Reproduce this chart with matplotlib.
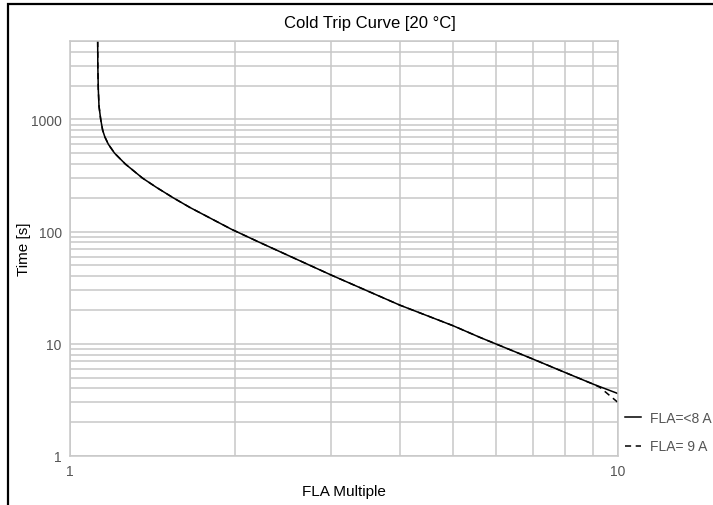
import matplotlib
matplotlib.use("Agg")
import matplotlib.pyplot as plt
from matplotlib.patches import Rectangle
from matplotlib.ticker import LogLocator, FixedLocator, FixedFormatter, NullFormatter

plt.rcParams['font.family'] = ['Liberation Sans', 'DejaVu Sans']

# Data
fla_solid = [1.1233, 1.124, 1.1263, 1.1296, 1.1377, 1.1472, 1.1575, 1.175, 1.206,
             1.262, 1.356, 1.4395, 1.5435, 1.6557, 1.97, 2.22, 3.0, 4.0, 5.0, 5.6,
             6.0, 7.0, 8.0, 9.0, 10.0]
time_solid = [5000, 3000, 1850, 1314, 1000, 800, 700, 600, 500,
              400, 300, 247, 200, 164, 105, 80, 40.9, 22.1, 14.5, 11.4,
              9.93, 7.3, 5.56, 4.38, 3.6]

fla_dashed = [1.1233, 1.124, 1.1263, 1.1296, 1.1377, 1.1472, 1.1575, 1.175, 1.206,
              1.262, 1.356, 1.4395, 1.5435, 1.6557, 1.97, 2.22, 3.0, 4.0, 5.0, 5.6,
              6.0, 7.0, 8.0, 9.0, 9.27, 9.67, 10.0]
time_dashed = [5000, 3000, 1850, 1314, 1000, 800, 700, 600, 500,
               400, 300, 247, 200, 164, 105, 80, 40.9, 22.1, 14.5, 11.4,
               9.93, 7.3, 5.56, 4.38, 4.09, 3.44, 3.0]

labels = ["FLA=<8 A", "FLA= 9 A"]
title = "Cold Trip Curve [20 \u00b0C]"
xlabel = "FLA Multiple"
ylabel = "Time [s]"
ytick_vals = [1, 10, 100, 1000]
ytick_labels = ["1", "10", "100", "1000"]
xtick_vals = [1, 10]
xtick_labels = ["1", "10"]

W, H = 713, 506
fig = plt.figure(figsize=(W / 100, H / 100), dpi=100)
fig.patch.set_facecolor('white')

# outer frame (left and top edges visible)
fig.add_artist(Rectangle((8 / W, -0.2), 2.0, 1.2 - 5 / H, transform=fig.transFigure,
                         fill=False, edgecolor='black', linewidth=1.6))

ax = fig.add_axes([70 / W, 1 - 457 / H, (618 - 70) / W, (457 - 42) / H])
ax.set_xscale('log')
ax.set_yscale('log')
ax.set_xlim(1, 10)
ax.set_ylim(1, 5000)

gridc = '#c8c8c8'
ax.xaxis.set_minor_locator(LogLocator(base=10, subs=range(2, 10)))
ax.yaxis.set_minor_locator(LogLocator(base=10, subs=range(2, 10), numticks=20))
ax.xaxis.set_major_locator(FixedLocator(xtick_vals))
ax.xaxis.set_major_formatter(FixedFormatter(xtick_labels))
ax.yaxis.set_major_locator(FixedLocator(ytick_vals))
ax.yaxis.set_major_formatter(FixedFormatter(ytick_labels))
ax.xaxis.set_minor_formatter(NullFormatter())
ax.yaxis.set_minor_formatter(NullFormatter())
ax.grid(True, which='both', color=gridc, linewidth=1.1)
ax.set_axisbelow(True)
ax.tick_params(which='both', length=0, labelsize=10, labelcolor='#555555', pad=6)
for s in ax.spines.values():
    s.set_color(gridc)
    s.set_linewidth(1.1)

l2, = ax.plot(fla_dashed, time_dashed, color='black', linewidth=1.1,
              linestyle=(0, (4, 3)), label=labels[1])
l1, = ax.plot(fla_solid, time_solid, color='black', linewidth=1.1,
              linestyle='-', label=labels[0])

ax.set_xlabel(xlabel, fontsize=11, color='black', labelpad=4)
ax.set_ylabel(ylabel, fontsize=11, color='black')
ax.yaxis.set_label_coords(-0.071, 0.5)
fig.text(370 / W, 1 - 24 / H, title, fontsize=12, ha='center', va='center', color='black')

leg = ax.legend(handles=[l1, l2], loc='upper left', bbox_to_anchor=(0.997, 0.129),
                frameon=False, fontsize=10, handlelength=1.2, handletextpad=0.6,
                labelspacing=1.05, borderaxespad=0.2)
for t in leg.get_texts():
    t.set_color('#555555')

fig.savefig('out.png', dpi=100)
